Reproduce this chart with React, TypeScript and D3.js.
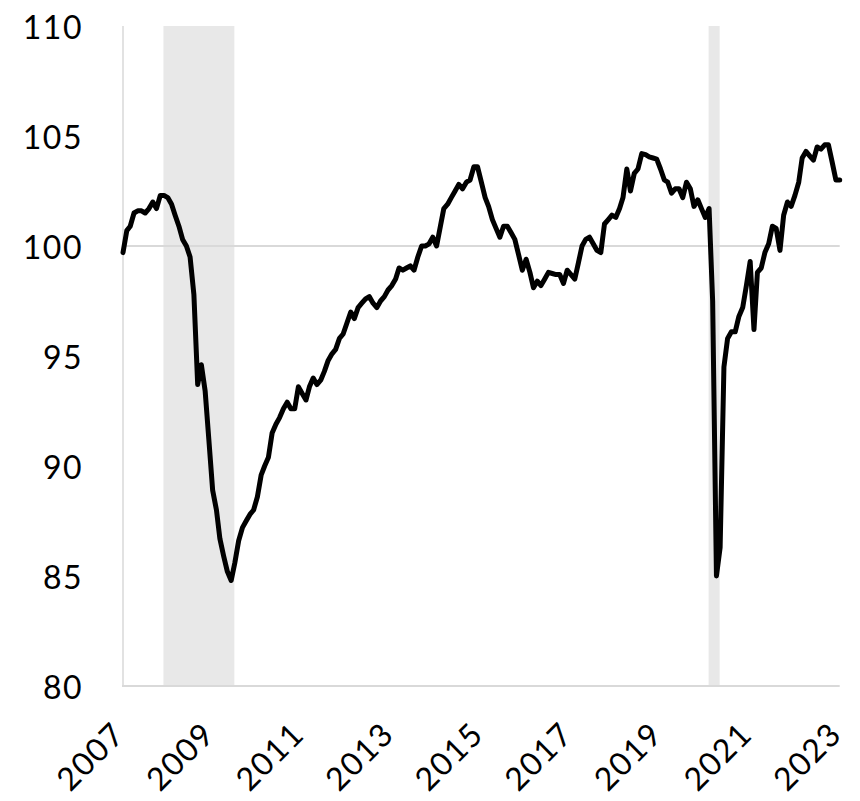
import React from "react";
import * as d3 from "d3";

// Monthly index values, Jan..Dec, starting 2007-01
const v2007 = [99.7, 100.7, 100.9, 101.5, 101.6, 101.6, 101.5, 101.7, 102.0, 101.7, 102.3, 102.3];
const v2008 = [102.2, 101.9, 101.4, 100.9, 100.3, 100.0, 99.5, 97.8, 93.7, 94.6, 93.4, 91.2];
const v2009 = [88.9, 88.0, 86.7, 85.9, 85.2, 84.8, 85.6, 86.6, 87.2, 87.5, 87.8, 88.0];
const v2010 = [88.6, 89.6, 90.0, 90.4, 91.5, 91.9, 92.2, 92.6, 92.9, 92.6, 92.6, 93.6];
const v2011 = [93.3, 93.0, 93.6, 94.0, 93.7, 93.9, 94.3, 94.8, 95.1, 95.3, 95.8, 96.0];
const v2012 = [96.5, 97.0, 96.7, 97.2, 97.4, 97.6, 97.7, 97.4, 97.2, 97.5, 97.7, 98.0];
const v2013 = [98.2, 98.5, 99.0, 98.9, 99.0, 99.1, 98.9, 99.5, 100.0, 100.0, 100.1, 100.4];
const v2014 = [100.0, 100.9, 101.7, 101.9, 102.2, 102.5, 102.8, 102.6, 102.9, 103.0, 103.6, 103.6];
const v2015 = [102.9, 102.2, 101.8, 101.2, 100.8, 100.4, 100.9, 100.9, 100.6, 100.3, 99.6, 98.9];
const v2016 = [99.4, 98.8, 98.1, 98.4, 98.2, 98.5, 98.8, 98.75, 98.7, 98.7, 98.3, 98.9];
const v2017 = [98.7, 98.5, 99.2, 100.0, 100.3, 100.4, 100.1, 99.8, 99.7, 101.0, 101.2, 101.4];
const v2018 = [101.3, 101.7, 102.2, 103.5, 102.5, 103.3, 103.5, 104.2, 104.15, 104.05, 104.0, 103.95];
const v2019 = [103.5, 103.0, 102.9, 102.4, 102.6, 102.6, 102.2, 102.9, 102.6, 101.8, 102.1, 101.7];
const v2020 = [101.3, 101.7, 97.5, 85.0, 86.3, 94.5, 95.8, 96.1, 96.1, 96.8, 97.2, 98.2];
const v2021 = [99.3, 96.2, 98.8, 99.0, 99.7, 100.1, 100.9, 100.8, 99.8, 101.4, 102.0, 101.8];
const v2022 = [102.3, 102.9, 104.0, 104.3, 104.1, 103.9, 104.5, 104.4, 104.6, 104.6, 103.8, 103.0];
const v2023 = [103.0];

const startYear = 2007;
const yearlySeries = [v2007, v2008, v2009, v2010, v2011, v2012, v2013, v2014, v2015, v2016, v2017, v2018, v2019, v2020, v2021, v2022, v2023];

// Recession periods [start, end) as [year, monthIndex, year, monthIndex]
const recessions: [number, number, number, number][] = [
  [2007, 11, 2009, 6],
  [2020, 1, 2020, 4],
];

const yTicks = [80, 85, 90, 95, 100, 105, 110];
const xTickYears = [2007, 2009, 2011, 2013, 2015, 2017, 2019, 2021, 2023];
const refLine = 100;

const W = 860;
const H = 801;
const left = 123;
const right = 839.7;
const top = 26;
const bottom = 686;
const FONT = "Lato, 'DejaVu Sans', sans-serif";

export default function App() {
  const data: { date: Date; value: number }[] = [];
  yearlySeries.forEach((arr, yi) => {
    arr.forEach((v, mi) => {
      data.push({ date: new Date(startYear + yi, mi, 1), value: v });
    });
  });

  const x = d3
    .scaleTime()
    .domain([new Date(2007, 0, 1), new Date(2023, 0, 1)])
    .range([left, right]);
  const y = d3.scaleLinear().domain([80, 110]).range([bottom, top]);

  const line = d3
    .line<{ date: Date; value: number }>()
    .x((d) => x(d.date))
    .y((d) => y(d.value));

  return (
    <svg
      width={W}
      height={H}
      style={{ position: "absolute", left: 0, top: 0, background: "#fff" }}
    >
      {recessions.map((r, i) => {
        const x0 = x(new Date(r[0], r[1], 1)) - 0.5;
        const x1 = x(new Date(r[2], r[3], 1)) - 0.5;
        return (
          <rect key={i} x={x0} y={top} width={x1 - x0} height={bottom - top} fill="#e8e8e8" />
        );
      })}
      <line x1={left} x2={right} y1={y(refLine)} y2={y(refLine)} stroke="#d9d9d9" strokeWidth={2} />
      <line x1={left} x2={left} y1={top} y2={bottom} stroke="#d9d9d9" strokeWidth={1.5} />
      <line x1={left - 1} x2={right} y1={bottom} y2={bottom} stroke="#d9d9d9" strokeWidth={2} />
      {yTicks.map((t) => (
        <text
          key={t}
          x={83}
          y={y(t)}
          textAnchor="end"
          dominantBaseline="central"
          fontFamily={FONT}
          fontSize={32}
          letterSpacing={1.5}
          fill="#000"
        >
          {t}
        </text>
      ))}
      {xTickYears.map((yr) => {
        const tx = x(new Date(yr, 0, 1));
        return (
          <text
            key={yr}
            transform={`translate(${tx + 4},${736}) rotate(-45)`}
            textAnchor="end"
            fontFamily={FONT}
            fontSize={32}
            letterSpacing={1.5}
            fill="#000"
          >
            {yr}
          </text>
        );
      })}
      <path
        d={line(data) || ""}
        fill="none"
        stroke="#000"
        strokeWidth={5}
        strokeLinejoin="round"
        strokeLinecap="round"
      />
    </svg>
  );
}
